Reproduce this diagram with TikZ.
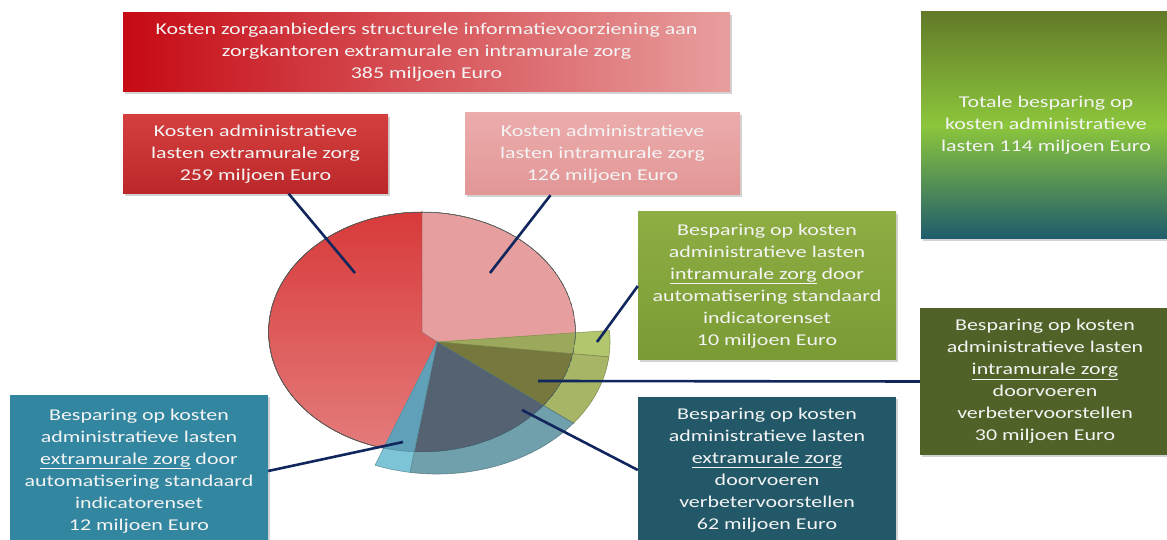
\documentclass[tikz,border=0pt]{standalone}
\usepackage{fontspec}
\setmainfont{Carlito}[FakeStretch=1.33]
\usepackage{tikz}
\usetikzlibrary{calc, shadows}

\definecolor{navyline}{RGB}{16,38,92}
\definecolor{boxtext}{RGB}{244,244,244}
\definecolor{bannerL}{RGB}{198,10,20}
\definecolor{bannerR}{RGB}{232,158,158}
\definecolor{extTop}{RGB}{212,62,62}
\definecolor{extBot}{RGB}{188,40,42}
\definecolor{intTop}{RGB}{236,172,172}
\definecolor{intBot}{RGB}{226,150,150}
\definecolor{totTop}{RGB}{98,122,40}
\definecolor{totMid}{RGB}{140,198,60}
\definecolor{totBot}{RGB}{30,92,108}
\definecolor{tenTop}{RGB}{142,174,68}
\definecolor{tenBot}{RGB}{122,154,52}
\definecolor{thirtyFill}{RGB}{80,98,40}
\definecolor{sixtytwoFill}{RGB}{34,88,104}
\definecolor{twelveFill}{RGB}{50,134,160}
\definecolor{pieRed}{RGB}{216,58,58}
\definecolor{pieRedLight}{RGB}{228,124,124}
\definecolor{piePink}{RGB}{230,158,158}
\definecolor{ovGreenRim}{RGB}{178,198,110}
\definecolor{ovGreenIn}{RGB}{156,168,92}
\definecolor{ovOliveRim}{RGB}{166,182,102}
\definecolor{ovOliveIn}{RGB}{118,120,62}
\definecolor{ovTealRim}{RGB}{112,160,172}
\definecolor{ovTealIn}{RGB}{84,98,114}
\definecolor{ovBlueRim}{RGB}{124,196,214}
\definecolor{ovBlueIn}{RGB}{96,160,184}

\begin{document}
\begin{tikzpicture}[x=1pt, y=1pt,
		box/.style={rectangle, inner sep=0pt, text=boxtext, align=center,
			font=\fontsize{16.5}{22}\selectfont,
			drop shadow={opacity=.35, shadow xshift=2pt, shadow yshift=-2.5pt}},
		conn/.style={navyline, line width=2.6pt},
		pieedge/.style={draw=#1!70!black, line width=.6pt, draw opacity=.8}]
			\useasboundingbox (0,0) rectangle (1167,540);

			\def\rx{153.5pt};
			\def\ry{120pt};
			\def\Rx{173pt};
			\def\Ry{132pt};

			\coordinate (C) at (422,208);
			\coordinate (A) at (437,198);

			% pie
			\begin{scope}
				\shadedraw [top color = pieRed, bottom color = pieRedLight, draw = pieRed!70!black, line width = .5pt]
					(C) -- ++(90:{\rx} and {\ry}) arc [start angle = 90, end angle = 320, x radius = \rx, y radius = \ry] -- cycle;
				\filldraw [fill = piePink, draw = piePink!75!black, line width = .5pt]
					(C) -- ++(-40:{\rx} and {\ry}) arc [start angle = -40, end angle = 90, x radius = \rx, y radius = \ry] -- cycle;

				\foreach \a/\b/\col in {5/-6.5/ovGreen, -6.5/-38/ovOlive, -38/-99/ovTeal, -99/-111/ovBlue}
				{
					\fill [\col Rim] (A) -- ++(\a:{\Rx} and {\Ry}) arc [start angle = \a, end angle = \b, x radius = \Rx, y radius = \Ry] -- cycle;
					\begin{scope}
						\clip (C) ellipse [x radius = \rx, y radius = \ry];
						\fill [\col In] (A) -- ++(\a:{\Rx} and {\Ry}) arc [start angle = \a, end angle = \b, x radius = \Rx, y radius = \Ry] -- cycle;
						\draw [pieedge = \col In] (C) ellipse [x radius = \rx, y radius = \ry];
					\end{scope}
					\draw [pieedge = \col Rim] (A) -- ++(\a:{\Rx} and {\Ry}) arc [start angle = \a, end angle = \b, x radius = \Rx, y radius = \Ry] -- cycle;
				}
			\end{scope}

			% boxes
			\node [box, minimum width = 607pt, minimum height = 79pt, left color = bannerL, right color = bannerR] (banner) at (426.5,487.5)
				{Kosten zorgaanbieders structurele informatievoorziening aan\\zorgkantoren extramurale en intramurale zorg\\385 miljoen Euro};
			\node [box, minimum width = 265pt, minimum height = 79pt, top color = extTop, bottom color = extBot] (ext259) at (255.5,386)
				{Kosten administratieve\\lasten extramurale zorg\\259 miljoen Euro};
			\node [box, minimum width = 275pt, minimum height = 82pt, top color = intTop, bottom color = intBot] (int126) at (602.5,386)
				{Kosten administratieve\\lasten intramurale zorg\\126 miljoen Euro};
			\node [box, minimum width = 250pt, minimum height = 227pt, top color = totTop, bottom color = totBot, middle color = totMid] (total) at (1046,414.5)
				{Totale besparing op\\kosten administratieve\\lasten 114 miljoen Euro};
			\node [box, minimum width = 258pt, minimum height = 148pt, top color = tenTop, bottom color = tenBot] (int10) at (767,254)
				{Besparing op kosten\\administratieve lasten\\\underline{intramurale zorg} door\\automatisering standaard\\indicatorenset\\10 miljoen Euro};
			\node [box, minimum width = 250pt, minimum height = 147pt, fill = thirtyFill] (int30) at (1045,158.5)
				{Besparing op kosten\\administratieve lasten\\\underline{intramurale zorg}\\doorvoeren\\verbetervoorstellen\\30 miljoen Euro};
			\node [box, minimum width = 258pt, minimum height = 146pt, fill = sixtytwoFill] (ext62) at (767,70)
				{Besparing op kosten\\administratieve lasten\\\underline{extramurale zorg}\\doorvoeren\\verbetervoorstellen\\62 miljoen Euro};
			\node [box, minimum width = 258pt, minimum height = 152pt, fill = twelveFill] (ext12) at (139,69)
				{Besparing op kosten\\administratieve lasten\\\underline{extramurale zorg} door\\automatisering standaard\\indicatorenset\\12 miljoen Euro};

			% connectors
			\coordinate (p259) at (355,267);
			\coordinate (p126) at (490,267);
			\coordinate (p10) at (597,198);
			\coordinate (p30) at (538,159);
			\coordinate (p62) at (522,130);
			\coordinate (p12) at (403,98);

			\draw [conn] (p259) -- (ext259);
			\draw [conn] (p126) -- ($(int126.south)+(-52,0)$);
			\draw [conn] (p10) -- (int10.west);
			\draw [conn] (p30) -- (int30.west);
			\draw [conn] (p62) -- (ext62.west);
			\draw [conn] (p12) -- (ext12.east);
		\end{tikzpicture}
\end{document}
